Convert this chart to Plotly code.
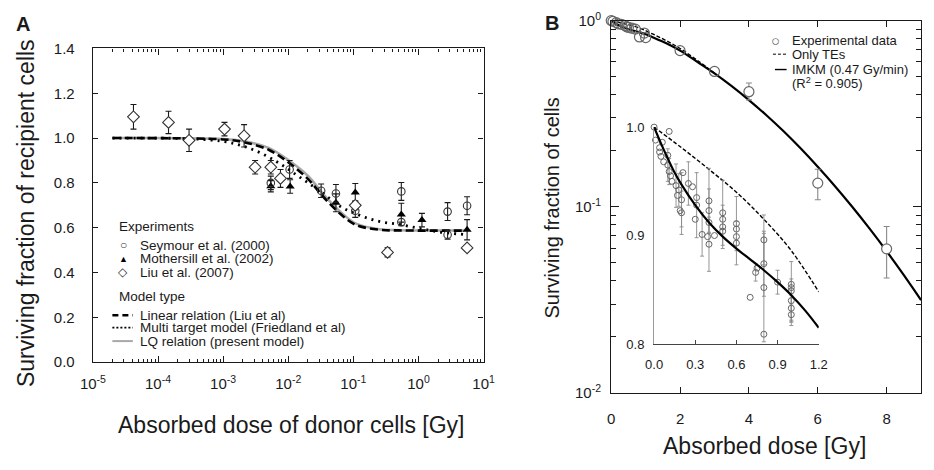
import plotly.graph_objects as go

W, H = 934, 470
FONT = "Liberation Sans, Arial, sans-serif"
INK = "#1a1a1a"

# ---- panel A: bystander experiments (dose in Gy, surviving fraction, error) ----
seymour_dose = [5.4e-3, 1.05e-2, 3.2e-2, 5.4e-2, 0.107, 0.545, 0.545, 2.8, 5.58, 2.8]
seymour_sf = [0.80, 0.86, 0.765, 0.753, 0.676, 0.762, 0.625, 0.672, 0.698, 0.569]
seymour_err = [0.03, 0.04, 0.03, 0.04, 0.03, 0.04, 0.0, 0.04, 0.04, 0.02]

mothersill_dose = [5.4e-3, 1.07e-2, 5.4e-2, 0.107, 0.545, 1.13, 5.58]
mothersill_sf = [0.785, 0.784, 0.711, 0.757, 0.659, 0.634, 0.591]
mothersill_err = [0.025, 0.03, 0.04, 0.04, 0.05, 0.03, 0.045]

liu_dose = [4.2e-5, 1.45e-4, 3.0e-4, 1.05e-3, 2.1e-3, 3.1e-3, 5.4e-3, 7.6e-3, 0.107, 0.335, 5.58]
liu_sf = [1.095, 1.07, 0.99, 1.04, 1.01, 0.87, 0.87, 0.82, 0.70, 0.49, 0.51]
liu_err = [0.055, 0.05, 0.05, 0.03, 0.05, 0.03, 0.03, 0.04, 0.02, 0.02, 0.0]

# model curves
lin_dose = [2e-5, 1e-3, 2e-3, 5e-3, 1e-2, 2e-2, 3.5e-2, 6.3e-2, 0.11, 0.25, 0.5, 5.0]
lin_sf = [1.0, 0.994, 0.983, 0.948, 0.892, 0.818, 0.736, 0.662, 0.612, 0.591, 0.588, 0.587]
lq_dose = [2e-5, 1e-3, 2e-3, 5e-3, 1e-2, 2e-2, 3.5e-2, 6.3e-2, 0.11, 0.25, 0.5, 5.0]
lq_sf = [1.0, 0.996, 0.987, 0.956, 0.902, 0.832, 0.748, 0.672, 0.618, 0.593, 0.589, 0.588]
mt_dose = [2e-5, 3e-4, 1e-3, 2e-3, 4e-3, 8e-3, 1.6e-2, 3.2e-2, 6.3e-2, 0.126, 0.25, 0.5, 1.0, 2.0, 5.0]
mt_sf = [1.0, 0.997, 0.985, 0.965, 0.93, 0.88, 0.82, 0.76, 0.695, 0.655, 0.628, 0.615, 0.598, 0.582, 0.57]

a_xtick_vals = [1e-5, 1e-4, 1e-3, 1e-2, 1e-1, 1e0, 1e1]
a_xtick_text = ["10<sup>-5</sup>", "10<sup>-4</sup>", "10<sup>-3</sup>", "10<sup>-2</sup>",
                "10<sup>-1</sup>", "10<sup>0</sup>", "10<sup>1</sup>"]

# ---- panel B: surviving fraction vs dose ----
b_dose = [0.0, 0.05, 0.15, 0.2, 0.3, 0.4, 0.45, 0.5, 0.6, 0.7, 0.82, 0.96, 1.0, 2.0, 3.0]
b_sf = [1.0, 0.99, 0.975, 0.96, 0.955, 0.94, 0.925, 0.92, 0.91, 0.90, 0.817, 0.857, 0.81, 0.69, 0.533]
b_err_dose = [4.0, 6.0, 8.0]
b_err_sf = [0.415, 0.134, 0.0594]
b_err_up = [0.047, 0.025, 0.019]
b_err_dn = [0.04, 0.025, 0.018]

imkm_dose = [0.0, 0.2, 0.5, 0.8, 1.0, 1.2, 1.6, 2.0, 2.5, 3.0, 3.5, 4.0, 4.5, 5.0, 5.5, 6.0,
             6.5, 7.0, 7.5, 8.0, 8.5, 9.0]
imkm_sf = [1.0, 0.947, 0.899, 0.868, 0.845, 0.815, 0.755, 0.69, 0.60, 0.52, 0.444, 0.374, 0.311,
           0.255, 0.206, 0.164, 0.129, 0.100, 0.0765, 0.0577, 0.0429, 0.0315]
te_dose = [0.0, 0.4, 0.8, 1.2, 1.6, 2.0, 2.5, 3.0]
te_sf = [1.0, 0.961, 0.915, 0.848, 0.78, 0.708, 0.612, 0.522]

# inset (0-1.2 Gy)
in_dose = [0.0, 0.11, 0.01, 0.04, 0.04, 0.06, 0.05, 0.07, 0.10, 0.12, 0.13, 0.17, 0.21, 0.28,
           0.19, 0.31, 0.30, 0.40, 0.39, 0.50, 0.50, 0.60, 0.60, 0.70, 0.75, 1.0, 1.0, 0.44, 0.80]
in_sf = [1.0, 0.996, 0.988, 0.981, 0.977, 0.986, 0.973, 0.968, 0.974, 0.955, 0.950, 0.937, 0.958,
         0.945, 0.923, 0.935, 0.915, 0.912, 0.899, 0.915, 0.904, 0.906, 0.899, 0.843, 0.870,
         0.855, 0.852, 0.90, 0.809]
in_err_dose = [0.10, 0.11, 0.16, 0.18, 0.2, 0.2, 0.25, 0.31, 0.35, 0.40, 0.40, 0.40, 0.50, 0.50,
               0.60, 0.60, 0.74, 0.80, 0.80, 0.80, 0.90, 1.0, 1.0, 1.0, 1.0]
in_err_sf = [0.965, 0.959, 0.946, 0.942, 0.933, 0.921, 0.948, 0.928, 0.901, 0.932, 0.923, 0.892,
             0.921, 0.908, 0.911, 0.893, 0.866, 0.896, 0.874, 0.852, 0.857, 0.849, 0.840, 0.833, 0.827]
in_err = [0.015, 0.012, 0.02, 0.015, 0.025, 0.02, 0.02, 0.03, 0.02, 0.03, 0.02, 0.025, 0.03, 0.02,
          0.025, 0.02, 0.008, 0.023, 0.03, 0.05, 0.011, 0.027, 0.02, 0.012, 0.01]
in_imkm_dose = [0.0, 0.05, 0.1, 0.15, 0.2, 0.3, 0.4, 0.5, 0.6, 0.7, 0.8, 0.9, 1.0, 1.1, 1.2]
in_imkm_sf = [1.0, 0.985, 0.971, 0.958, 0.947, 0.928, 0.912, 0.899, 0.888, 0.878, 0.868, 0.857,
              0.845, 0.831, 0.815]
in_te_dose = [0.0, 0.2, 0.4, 0.6, 0.8, 1.0, 1.2]
in_te_sf = [1.0, 0.981, 0.961, 0.94, 0.915, 0.886, 0.848]


def errbar(vals, color, width=3, thick=1.1, minus=None):
    d = dict(type="data", array=vals, color=color, thickness=thick, width=width, visible=True)
    if minus is not None:
        d["arrayminus"] = minus
        d["symmetric"] = False
    return d


fig = go.Figure()

# panel A curves
fig.add_trace(go.Scatter(x=lq_dose, y=lq_sf, mode="lines", line=dict(color="#a8a8a8", width=2.5, shape="spline"),
                         xaxis="x", yaxis="y"))
fig.add_trace(go.Scatter(x=lin_dose, y=lin_sf, mode="lines",
                         line=dict(color="black", width=2.6, dash="8px,4px", shape="spline"), xaxis="x", yaxis="y"))
fig.add_trace(go.Scatter(x=mt_dose, y=mt_sf, mode="lines",
                         line=dict(color="black", width=2.8, dash="2px,5px", shape="spline"), xaxis="x", yaxis="y"))

# panel A data
fig.add_trace(go.Scatter(x=mothersill_dose, y=mothersill_sf, mode="markers", error_y=errbar(mothersill_err, INK),
                         marker=dict(symbol="triangle-up", size=8, color="black"), xaxis="x", yaxis="y"))
fig.add_trace(go.Scatter(x=seymour_dose, y=seymour_sf, mode="markers", error_y=errbar(seymour_err, INK),
                         marker=dict(symbol="circle-open", size=7.5, color="#333", line=dict(width=1.1)),
                         xaxis="x", yaxis="y"))
fig.add_trace(go.Scatter(x=liu_dose, y=liu_sf, mode="markers", error_y=errbar(liu_err, INK),
                         marker=dict(symbol="diamond", size=9, color="white", line=dict(color="#333", width=1.1)),
                         xaxis="x", yaxis="y"))

# panel B main
fig.add_trace(go.Scatter(x=te_dose, y=te_sf, mode="lines", line=dict(color="black", width=1.4, dash="4px,2px",
                         shape="spline"), xaxis="x2", yaxis="y2", cliponaxis=False))
fig.add_trace(go.Scatter(x=imkm_dose, y=imkm_sf, mode="lines", line=dict(color="black", width=2.2, shape="spline"),
                         xaxis="x2", yaxis="y2"))
fig.add_trace(go.Scatter(x=b_dose, y=b_sf, mode="markers", cliponaxis=False,
                         marker=dict(symbol="circle-open", size=10, color="#666", line=dict(width=1.2)),
                         xaxis="x2", yaxis="y2"))
fig.add_trace(go.Scatter(x=b_err_dose, y=b_err_sf, mode="markers", cliponaxis=False,
                         error_y=errbar(b_err_up, "#888", width=3, thick=1.1, minus=b_err_dn),
                         marker=dict(symbol="circle", size=10, color="white", line=dict(color="#666", width=1.2)),
                         xaxis="x2", yaxis="y2"))

# inset
fig.add_trace(go.Scatter(x=in_te_dose, y=in_te_sf, mode="lines", line=dict(color="black", width=1.4, dash="4px,2px",
                         shape="spline"), xaxis="x3", yaxis="y3", cliponaxis=False))
fig.add_trace(go.Scatter(x=in_err_dose, y=in_err_sf, mode="markers", cliponaxis=False,
                         error_y=errbar(in_err, "#8a8a8a", width=2, thick=0.9),
                         marker=dict(symbol="circle-open", size=6, color="#666", line=dict(width=1)),
                         xaxis="x3", yaxis="y3"))
fig.add_trace(go.Scatter(x=in_dose, y=in_sf, mode="markers", cliponaxis=False,
                         marker=dict(symbol="circle-open", size=6, color="#666", line=dict(width=1)),
                         xaxis="x3", yaxis="y3"))
fig.add_trace(go.Scatter(x=in_imkm_dose, y=in_imkm_sf, mode="lines", line=dict(color="black", width=2.2,
                         shape="spline"), xaxis="x3", yaxis="y3", cliponaxis=False))

a_minor = [m * 10.0 ** e for e in range(-5, 1) for m in range(2, 10)]
b_minor = [m * 10.0 ** e for e in (-2, -1) for m in range(2, 10)]

box = dict(showline=True, linecolor=INK, linewidth=1.4, mirror="ticks", ticks="inside", tickcolor=INK,
           tickwidth=1.2, showgrid=False, zeroline=False, tickfont=dict(size=15, color=INK, family=FONT))

fig.update_layout(
    width=W, height=H, margin=dict(l=0, r=0, t=0, b=0),
    paper_bgcolor="white", plot_bgcolor="rgba(0,0,0,0)", showlegend=False,
    font=dict(family=FONT, color=INK),
    xaxis=dict(box, domain=[82 / W, 483 / W], anchor="y", type="log", range=[-5, 1], ticklen=6,
               tickvals=a_xtick_vals, ticktext=a_xtick_text, ticklabelstandoff=8,
               minor=dict(tickvals=a_minor, ticks="inside", ticklen=3.5, tickcolor=INK, tickwidth=1)),
    yaxis=dict(box, domain=[1 - 366 / H, 1 - 39 / H], anchor="x", range=[0, 1.4], dtick=0.2, tickformat=".1f",
               ticklen=5, ticklabelstandoff=14),
    xaxis2=dict(box, domain=[614 / W, 932 / W], anchor="y2", range=[0, 9], tick0=0, dtick=2, ticklen=6,
                ticklabelstandoff=12),
    yaxis2=dict(box, domain=[1 - 398 / H, 1 - 10 / H], anchor="x2", type="log", range=[-2, 0], ticklen=8,
                tickvals=[0.01, 0.1, 1], ticktext=["10<sup>-2</sup>", "10<sup>-1</sup>", "10<sup>0</sup>"],
                ticklabelstandoff=6,
                minor=dict(tickvals=b_minor, ticks="inside", ticklen=5, tickcolor=INK, tickwidth=1)),
    xaxis3=dict(domain=[658 / W, 827 / W], anchor="y3", range=[0, 1.2], showline=True, linecolor="#444",
                linewidth=1.2, ticks="inside", ticklen=4, tickcolor="#444", tickvals=[0, 0.3, 0.6, 0.9, 1.2],
                tickformat=".1f", showgrid=False, zeroline=False, ticklabelstandoff=8,
                tickfont=dict(size=13, color=INK, family=FONT)),
    yaxis3=dict(domain=[1 - 347 / H, 1 - 121 / H], anchor="x3", range=[0.8, 1.0], showline=True, linecolor="#999",
                linewidth=1.2, ticks="", tickvals=[0.8, 0.9, 1.0], tickformat=".1f", showgrid=False,
                zeroline=False, ticklabelstandoff=6, tickfont=dict(size=13, color=INK, family=FONT)),
)


def px(x):
    return x / W


def py(y):
    return 1 - y / H


def text(x, y, s, size=13.5, xanchor="left", angle=0, bold=False, color=INK):
    fig.add_annotation(x=px(x), y=py(y), xref="paper", yref="paper", text=f"<b>{s}</b>" if bold else s,
                       showarrow=False, xanchor=xanchor, yanchor="middle", textangle=angle,
                       font=dict(size=size, color=color, family=FONT))


# titles
text(14, 211, "Surviving fraction of recipient cells", size=23, xanchor="center", angle=-90)
text(285, 431, "Absorbed dose of donor cells [Gy]", size=23, xanchor="center")
text(553, 205, "Surviving fraction of cells", size=20, xanchor="center", angle=-90)
text(771, 453, "Absorbed dose [Gy]", size=23, xanchor="center")
text(10, 14, "A", size=20, xanchor="center", bold=True)
text(553, 12, "B", size=20, xanchor="center", bold=True)

# legend A
text(107, 225, "Experiments")
text(113, 244, "○", size=12, xanchor="center", color="#333")
text(113, 258, "▲", size=9, xanchor="center", color="black")
text(113, 272, "◇", size=12, xanchor="center", color="#333")
text(128, 244, "Seymour et al. (2000)")
text(128, 258, "Mothersill et al. (2002)")
text(128, 272, "Liu et al. (2007)")
text(107, 298, "Model type")
text(128, 317, "Linear relation (Liu et al)")
text(128, 330, "Multi target model (Friedland et al)")
text(128, 344, "LQ relation (present model)")
for y, dash, col, w in [(317, "6px,4px", "black", 2.4), (330, "2px,2px", "black", 1.6), (344, "solid", "#a8a8a8", 2)]:
    fig.add_shape(type="line", xref="paper", yref="paper", x0=px(102), x1=px(123), y0=py(y), y1=py(y),
                  line=dict(color=col, width=w, dash=dash))

# legend B
text(783, 31, "○", size=15, xanchor="center", color="#666")
text(797, 31, "Experimental data", size=13)
text(797, 45, "Only TEs", size=13)
text(797, 61, "IMKM (0.47 Gy/min)", size=13)
text(797, 75, "(R<sup>2</sup> = 0.905)", size=13)
fig.add_shape(type="line", xref="paper", yref="paper", x0=px(780), x1=px(794), y0=py(45), y1=py(45),
              line=dict(color="black", width=1, dash="3px,2px"))
fig.add_shape(type="line", xref="paper", yref="paper", x0=px(782), x1=px(794), y0=py(61), y1=py(61),
              line=dict(color="black", width=1.4))

# the page body has a default margin; drop it so the figure sits at the window's corner
fig.write_html("out.html", config={"displayModeBar": False},
               post_script="document.body.style.margin='0';")
